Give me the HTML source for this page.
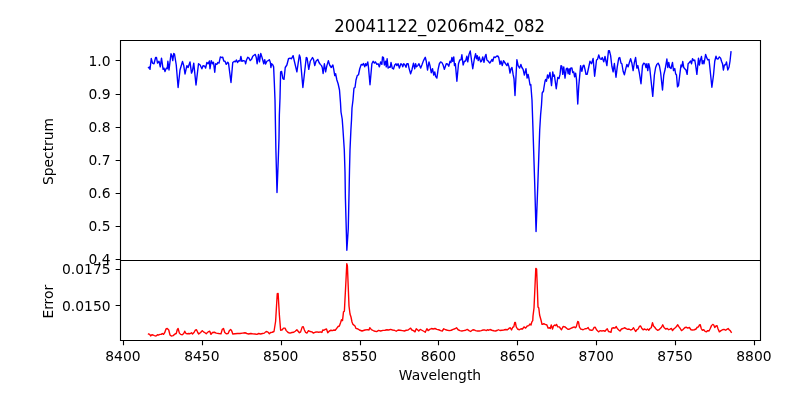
<!DOCTYPE html>
<html lang="en"><head><meta charset="utf-8"><title>20041122_0206m42_082</title>
<style>html,body{margin:0;padding:0;background:#fff}body{width:800px;height:400px;overflow:hidden}</style></head>
<body>
<svg width="800" height="400" viewBox="0 0 800 400" style="display:block">
<rect width="800" height="400" fill="#fff"/>
<clipPath id="c1"><rect x="120" y="40" width="640" height="220"/></clipPath><clipPath id="c2"><rect x="120" y="260" width="640" height="80"/></clipPath>
<polyline clip-path="url(#c1)" points="148.50,67.75 149.38,66.88 150.00,69.38 151.25,58.50 152.50,63.12 154.00,63.75 155.62,57.50 156.50,57.50 157.50,63.12 159.00,61.25 160.25,66.88 161.50,58.12 163.12,69.38 164.00,68.12 165.00,71.50 166.25,68.12 167.25,68.75 167.88,61.25 169.00,70.00 171.00,53.75 171.88,55.62 172.75,60.62 173.75,53.50 174.50,54.00 176.25,65.00 178.12,87.50 180.00,70.00 182.50,61.50 183.75,65.62 185.00,74.00 186.88,65.62 188.12,67.50 190.00,61.88 191.50,73.12 192.50,70.62 193.75,63.12 196.00,85.00 198.50,63.75 200.00,64.75 201.88,68.75 203.12,65.62 204.75,66.25 205.62,68.12 206.88,62.50 208.12,63.75 209.38,61.00 210.00,68.75 211.25,60.62 212.50,63.75 213.50,62.25 214.75,72.25 215.62,63.75 216.88,64.38 217.75,62.50 219.00,63.12 220.38,56.88 221.50,57.50 222.75,57.25 223.75,61.00 225.00,61.25 226.25,64.38 227.75,62.25 228.50,63.12 231.00,82.50 232.75,62.50 234.38,61.25 235.25,61.88 236.50,60.00 237.50,62.50 238.75,60.62 240.00,61.00 240.88,56.50 241.88,61.25 243.75,60.62 245.00,61.25 245.62,63.75 246.50,60.00 247.75,57.25 249.00,58.12 250.25,60.62 251.50,59.38 252.75,56.25 254.00,55.25 255.25,54.38 256.25,57.50 257.12,63.75 258.50,54.38 259.50,61.88 260.75,53.50 261.88,56.88 262.75,60.00 263.75,63.75 264.75,59.75 265.62,64.00 266.88,61.25 268.12,60.62 269.38,59.75 270.38,62.50 270.88,67.50 271.62,63.75 272.75,64.75 273.62,66.88 274.30,82.00 275.00,100.00 275.90,150.00 277.00,192.50 278.25,160.00 279.00,138.00 279.35,115.00 280.00,98.00 280.62,71.88 281.62,71.50 282.88,78.75 284.00,79.38 285.25,67.50 286.88,65.00 288.50,58.75 290.00,58.12 291.50,58.75 293.12,55.62 294.38,61.25 296.88,71.88 299.38,55.00 300.25,57.50 302.88,87.50 306.25,57.50 307.12,58.12 308.75,69.38 310.25,61.25 312.50,57.50 313.50,59.38 314.75,65.62 316.00,61.25 317.75,59.38 319.00,62.50 320.25,64.38 321.50,65.62 322.25,67.50 323.12,73.50 324.38,63.75 325.62,71.88 326.88,65.62 328.38,60.62 329.62,65.00 331.25,67.50 332.88,65.00 333.75,69.38 334.75,75.62 335.62,73.75 336.88,80.00 338.12,83.75 339.50,90.00 340.50,103.00 341.00,112.00 342.20,119.00 343.00,130.00 344.30,150.00 345.00,172.00 345.40,198.00 346.85,250.20 348.25,229.00 349.00,195.00 349.50,170.00 350.00,150.00 350.90,130.00 351.50,120.00 352.00,108.00 353.00,100.00 353.80,90.00 354.00,88.12 355.00,87.50 356.00,80.00 357.25,75.62 358.50,74.75 359.75,68.75 361.25,64.38 362.50,65.00 363.50,63.50 364.75,66.88 365.62,63.75 366.50,65.62 367.75,61.88 368.50,67.50 370.00,84.75 371.88,63.75 373.12,61.25 374.38,63.12 375.38,61.88 376.88,64.38 378.12,63.75 379.38,66.88 380.62,61.88 381.88,64.38 382.50,56.88 383.50,57.50 384.38,65.00 385.62,61.25 386.25,66.88 387.12,58.75 388.12,68.12 389.38,66.88 390.25,67.25 391.00,62.50 392.25,68.12 393.50,69.00 394.75,65.00 396.00,63.75 396.88,65.62 398.12,63.75 399.38,68.12 400.88,63.75 401.88,64.38 402.75,66.88 403.75,63.75 405.00,65.00 406.00,67.25 406.88,63.75 408.12,63.75 409.00,68.12 410.62,73.75 411.88,70.00 413.50,63.12 414.75,68.75 415.62,63.75 416.50,66.88 417.75,65.62 419.00,63.75 420.62,68.12 421.88,65.00 423.50,60.62 425.25,57.25 426.25,61.25 427.50,70.00 429.00,61.88 430.00,65.62 431.25,72.75 432.50,68.75 433.75,75.00 434.75,71.88 435.62,76.25 436.88,78.12 438.12,69.38 439.38,63.75 440.62,61.88 441.88,62.50 443.12,65.00 444.38,69.38 445.00,67.50 446.25,63.75 447.50,64.00 448.75,66.25 450.00,61.25 451.00,62.50 451.88,57.50 452.75,61.25 453.75,56.88 454.50,65.62 455.38,63.75 456.88,81.25 458.50,63.75 459.75,60.00 461.00,59.75 461.88,54.75 463.12,65.00 464.38,61.25 465.62,61.00 466.88,56.25 467.75,61.88 469.00,54.38 470.25,51.00 471.50,60.00 472.75,68.75 474.38,58.75 475.62,53.75 476.50,58.75 477.25,55.62 478.25,60.62 479.25,56.88 480.62,61.88 481.50,61.25 482.75,56.88 484.00,62.25 485.00,56.88 486.00,54.38 486.88,60.00 488.12,61.00 489.75,63.12 491.00,61.25 492.00,59.38 492.75,61.25 494.00,56.88 495.25,57.50 496.50,56.25 497.75,56.00 498.75,57.50 500.00,64.38 501.00,61.00 502.25,65.62 503.50,60.62 504.75,62.50 506.00,64.38 506.88,65.62 507.88,63.12 509.00,66.88 510.00,73.12 511.00,68.75 512.00,67.50 513.12,74.38 514.00,78.75 515.00,95.50 516.88,59.75 518.12,65.62 519.62,68.12 520.88,64.38 521.88,67.50 523.12,69.38 524.38,75.00 526.00,68.75 527.12,78.12 528.12,74.38 529.00,78.75 530.00,85.00 530.80,84.60 531.30,91.00 532.00,100.00 533.00,130.00 534.75,185.00 536.05,231.50 537.80,185.00 539.70,130.00 540.60,115.00 541.50,105.00 542.20,93.00 543.50,91.00 543.75,88.75 545.00,81.25 545.62,79.38 546.50,81.25 547.50,75.00 548.50,78.12 550.00,72.50 551.50,85.62 552.75,71.88 553.50,76.25 554.38,75.00 556.25,88.75 557.75,77.50 559.00,78.50 560.00,74.38 561.00,65.62 561.88,66.25 562.75,74.38 563.75,66.88 565.00,78.12 566.25,68.75 567.25,68.12 568.12,73.75 569.00,68.75 569.75,74.38 570.62,68.12 571.88,67.88 572.75,72.50 573.75,71.88 574.62,76.88 575.62,73.12 576.50,79.38 577.75,104.00 578.75,86.25 580.62,65.62 581.88,71.25 583.12,65.62 584.00,65.25 585.00,69.38 586.00,74.38 587.12,74.38 588.12,70.00 590.00,61.25 591.50,63.75 593.12,58.50 594.62,76.25 595.62,68.12 596.50,60.00 597.50,59.38 598.75,55.00 600.00,58.75 601.25,59.38 602.25,57.50 603.75,61.88 605.00,56.50 606.88,65.62 608.50,50.62 609.38,50.62 610.62,55.62 611.88,66.25 613.12,71.88 614.38,63.50 616.00,77.25 617.25,66.88 618.75,58.12 619.75,57.50 621.00,63.12 621.88,63.75 623.12,71.25 624.38,74.75 625.62,69.38 626.88,64.38 628.12,66.88 629.38,62.50 630.62,58.75 631.88,63.12 633.12,70.62 634.38,62.50 635.62,57.50 636.88,68.12 637.88,65.62 639.38,73.12 641.00,83.75 642.50,65.62 643.75,63.12 645.00,63.75 646.00,67.50 646.88,63.75 647.75,70.62 648.75,63.75 649.75,68.12 651.00,80.00 652.75,96.38 654.38,75.00 655.62,67.50 656.88,64.38 658.12,63.12 659.38,65.62 660.62,72.50 662.50,90.00 663.75,75.00 665.25,68.75 666.88,59.00 667.75,67.50 668.75,62.50 669.75,67.50 671.00,68.50 672.50,62.50 673.50,70.62 674.75,68.50 675.62,73.75 676.50,75.00 677.50,86.88 678.50,85.62 679.75,75.00 681.00,65.00 681.88,66.88 682.75,61.50 683.75,67.50 685.00,69.00 686.00,70.00 687.12,74.38 688.12,63.75 689.38,62.50 690.62,61.00 691.50,63.75 692.50,58.75 693.75,60.62 694.75,60.00 695.62,65.00 696.88,74.38 698.50,58.12 699.38,65.00 700.25,60.62 701.50,56.50 702.25,63.75 703.12,60.62 704.00,63.75 705.62,54.38 706.88,58.12 707.88,60.00 709.00,59.38 710.25,71.25 711.88,87.25 713.50,75.00 714.75,61.25 716.00,56.25 716.88,58.75 718.12,59.00 719.38,56.88 720.62,58.12 721.50,61.25 722.50,63.75 723.38,70.00 724.38,65.00 725.62,64.75 726.50,61.88 727.75,70.00 729.00,67.25 730.00,61.25 731.00,51.88" fill="none" stroke="#0000ff" stroke-width="1.39" stroke-linejoin="round" stroke-linecap="square"/>
<polyline clip-path="url(#c2)" points="148.50,334.00 149.75,334.38 150.62,336.00 151.88,334.75 153.12,335.00 154.38,335.62 156.00,336.00 157.50,334.75 158.75,335.00 160.00,334.38 161.25,334.38 162.25,333.50 163.50,334.38 164.75,332.50 166.00,329.00 167.25,328.50 168.75,330.00 170.00,335.00 171.25,336.00 173.12,335.62 175.00,334.00 176.25,333.50 177.25,329.75 178.12,328.50 179.38,333.12 180.62,334.38 182.25,334.75 183.75,333.50 184.75,331.25 186.00,333.50 187.50,333.75 188.75,333.50 190.00,333.75 191.50,332.75 192.50,334.00 194.00,332.50 195.25,330.25 196.50,329.75 197.75,332.50 198.75,334.00 200.62,332.50 202.25,330.62 203.50,331.88 205.00,332.75 206.25,333.75 208.12,331.88 209.75,331.25 211.00,334.38 212.50,332.50 214.38,332.25 216.25,333.12 218.75,333.50 221.00,333.75 222.25,329.38 223.50,328.50 224.75,332.50 226.25,333.75 228.12,333.50 229.38,330.62 230.62,329.38 231.88,331.25 232.75,334.00 235.00,333.75 237.50,333.50 240.00,333.50 242.50,333.12 245.00,332.75 246.88,333.50 248.75,334.00 250.62,333.50 252.50,333.75 255.00,334.00 256.88,334.38 258.75,333.50 260.62,334.00 262.50,333.50 264.38,333.12 265.62,331.88 266.88,331.50 268.12,332.25 269.38,333.75 270.62,332.50 272.25,332.25 274.00,331.50 275.62,321.25 277.25,293.75 278.12,293.50 279.38,315.00 280.62,330.25 282.25,329.75 283.50,328.12 285.00,328.12 286.25,330.62 288.12,332.50 290.00,333.12 291.88,332.50 293.75,332.25 295.25,331.25 296.88,329.75 298.12,331.25 299.38,332.75 300.62,331.88 302.25,326.88 303.25,326.62 304.38,330.00 305.62,332.50 306.88,333.12 308.50,330.62 310.00,331.50 311.88,331.88 313.50,333.12 315.00,332.25 316.88,331.88 318.75,332.25 320.62,331.88 321.88,332.50 322.75,330.00 324.00,330.25 325.25,329.38 326.50,329.00 327.75,332.75 329.38,331.00 331.00,330.25 332.50,330.62 334.00,330.00 335.25,330.25 336.88,328.12 338.12,326.50 339.38,326.00 340.62,322.50 341.50,319.75 342.50,320.62 343.50,311.88 344.38,311.25 345.00,299.00 346.00,280.00 346.80,263.60 347.40,266.00 348.20,286.00 349.00,306.00 350.00,314.00 351.00,317.00 352.00,322.00 353.00,324.40 355.00,326.00 356.00,328.40 358.00,329.00 359.40,330.00 362.00,331.00 365.00,330.00 367.40,329.60 369.00,330.00 369.80,327.60 371.40,329.60 374.00,331.00 376.60,331.60 378.60,330.40 380.60,331.00 383.00,330.40 385.00,330.25 386.88,329.75 388.75,330.00 390.62,329.38 392.50,330.00 394.38,330.25 396.25,331.25 398.12,330.00 400.00,330.25 402.50,330.62 404.38,331.00 406.25,330.25 408.12,330.00 409.38,329.00 410.62,328.12 411.88,330.00 413.50,330.62 415.00,331.88 416.25,328.75 417.50,329.75 418.75,331.00 420.25,329.38 421.88,330.25 423.75,331.25 425.25,332.25 426.88,328.75 428.12,330.62 429.75,329.38 431.50,328.50 433.12,329.00 435.00,328.50 436.88,329.38 438.75,329.75 440.62,330.62 442.25,331.00 443.75,328.75 445.62,329.75 447.50,330.25 449.38,330.62 451.25,330.25 453.12,329.38 455.00,328.75 456.50,327.75 458.12,329.75 460.00,330.62 461.88,331.00 463.75,330.62 465.62,330.25 467.25,329.38 469.00,330.62 470.62,331.50 472.50,330.00 474.00,329.75 475.62,330.62 477.50,331.00 479.38,331.00 481.25,330.62 483.12,330.00 485.00,330.00 486.25,330.62 487.50,329.75 488.75,330.25 490.00,329.50 491.88,330.25 493.75,330.75 495.62,331.00 497.50,330.25 498.50,329.75 500.00,330.50 501.88,330.25 503.75,330.00 505.62,329.50 507.50,329.75 509.38,328.12 510.25,327.75 511.50,330.00 512.75,327.25 513.75,326.88 514.75,322.50 515.38,322.50 516.25,326.88 517.50,329.00 519.38,329.75 521.00,328.75 522.50,329.00 524.00,326.88 525.62,328.12 527.25,326.00 528.75,325.62 530.00,324.00 531.00,325.00 531.88,321.88 532.75,320.62 533.00,316.00 534.00,308.00 535.00,286.00 535.80,268.40 536.60,269.00 537.40,290.00 538.00,307.00 538.80,308.00 539.60,315.00 541.00,320.00 542.00,324.40 542.25,324.38 543.75,323.75 545.25,324.38 546.88,325.00 548.12,328.12 549.38,327.75 550.25,328.50 551.25,325.00 552.50,329.00 553.50,326.00 554.75,325.00 555.62,325.62 556.50,324.38 557.75,326.88 559.38,326.88 560.62,328.75 561.50,329.75 563.12,326.50 565.00,326.88 566.88,328.50 568.12,329.38 569.75,329.00 571.25,328.12 572.75,327.50 574.38,326.88 575.25,327.75 576.25,326.88 577.75,321.50 578.50,321.88 579.38,326.88 580.62,329.00 581.88,329.38 583.12,329.75 585.00,328.75 586.88,328.50 588.12,327.50 589.38,329.75 591.25,330.25 592.75,330.00 594.00,327.50 595.25,327.25 596.50,329.75 597.75,331.00 598.75,331.88 600.00,330.62 601.88,331.00 603.50,330.62 605.00,331.25 606.25,329.75 607.25,328.75 608.50,331.50 609.75,331.88 611.00,332.25 611.88,328.12 613.50,327.75 615.00,328.12 616.25,326.50 617.25,328.50 618.75,330.00 620.00,331.00 621.50,329.00 623.12,328.50 624.38,327.75 626.00,328.50 627.50,329.38 629.00,329.00 630.62,330.00 632.25,329.38 633.50,327.75 634.75,330.00 635.62,331.50 636.88,329.75 638.12,329.00 639.38,326.50 640.62,326.00 641.88,328.50 643.12,329.75 644.75,329.00 646.25,330.00 647.50,329.00 648.75,330.25 650.00,328.50 651.25,327.75 652.50,322.75 653.50,326.00 654.75,327.25 656.00,329.00 657.50,330.25 659.00,329.75 660.25,328.50 661.50,327.25 662.75,324.75 664.00,327.50 665.62,329.00 667.25,328.50 668.75,329.75 670.25,329.00 671.50,328.50 672.50,330.62 674.00,328.75 675.25,327.75 676.50,326.50 677.75,324.75 679.00,326.88 680.25,328.50 681.50,330.62 682.75,329.75 684.00,328.50 685.00,327.50 686.50,327.25 687.75,328.12 689.38,327.50 691.00,329.75 692.50,330.00 694.38,329.75 696.00,329.00 697.25,327.25 698.50,326.88 699.38,325.00 700.25,324.75 701.25,328.50 702.25,330.25 703.75,329.75 705.00,331.25 706.25,331.88 707.75,330.62 709.00,331.00 710.25,328.50 711.50,325.62 712.75,324.38 713.75,325.00 714.75,327.50 716.00,326.00 717.00,325.62 718.00,328.75 719.38,331.88 721.00,330.62 722.50,329.75 724.00,329.38 725.62,330.25 726.88,329.38 728.12,328.50 729.38,330.00 730.25,330.62 731.25,332.25" fill="none" stroke="#ff0000" stroke-width="1.39" stroke-linejoin="round" stroke-linecap="square"/>
<path d="M123.50 340.5v4.86 M202.50 340.5v4.86 M281.50 340.5v4.86 M360.50 340.5v4.86 M438.50 340.5v4.86 M517.50 340.5v4.86 M596.50 340.5v4.86 M675.50 340.5v4.86 M754.50 340.5v4.86 M120.5 60.50h-4.86 M120.5 94.50h-4.86 M120.5 127.50h-4.86 M120.5 160.50h-4.86 M120.5 193.50h-4.86 M120.5 226.50h-4.86 M120.5 259.50h-4.86 M120.5 269.50h-4.86 M120.5 305.50h-4.86" stroke="#000" stroke-width="1.11" fill="none"/>
<g fill="none" stroke="#000" stroke-width="1.11" stroke-linecap="square"><path d="M120.5 40.5H760.5V340.5H120.5ZM120.5 260.5H760.5"/></g>
<g font-family="'DejaVu Sans', 'Liberation Sans', sans-serif" fill="#000">
<text transform="translate(439.6 32) scale(0.99 1.065)" font-size="16.67" text-anchor="middle">20041122_0206m42_082</text>
<g font-size="13.89">
<text x="122.95" y="361" text-anchor="middle">8400</text>
<text x="201.82" y="361" text-anchor="middle">8450</text>
<text x="280.69" y="361" text-anchor="middle">8500</text>
<text x="359.56" y="361" text-anchor="middle">8550</text>
<text x="438.43" y="361" text-anchor="middle">8600</text>
<text x="517.30" y="361" text-anchor="middle">8650</text>
<text x="596.16" y="361" text-anchor="middle">8700</text>
<text x="675.03" y="361" text-anchor="middle">8750</text>
<text x="753.90" y="361" text-anchor="middle">8800</text>
<text x="110.6" y="66" text-anchor="end">1.0</text>
<text x="110.6" y="99" text-anchor="end">0.9</text>
<text x="110.6" y="132" text-anchor="end">0.8</text>
<text x="110.6" y="165" text-anchor="end">0.7</text>
<text x="110.6" y="198" text-anchor="end">0.6</text>
<text x="110.6" y="231" text-anchor="end">0.5</text>
<text x="110.6" y="264" text-anchor="end">0.4</text>
<text x="110.6" y="274" text-anchor="end">0.0175</text>
<text x="110.6" y="311" text-anchor="end">0.0150</text>
<text x="440" y="380" text-anchor="middle">Wavelength</text>
<text transform="translate(53.3 151.5) rotate(-90)" text-anchor="middle">Spectrum</text>
<text transform="translate(52.8 301.7) rotate(-90)" text-anchor="middle">Error</text>
</g></g></svg>
</body></html>
